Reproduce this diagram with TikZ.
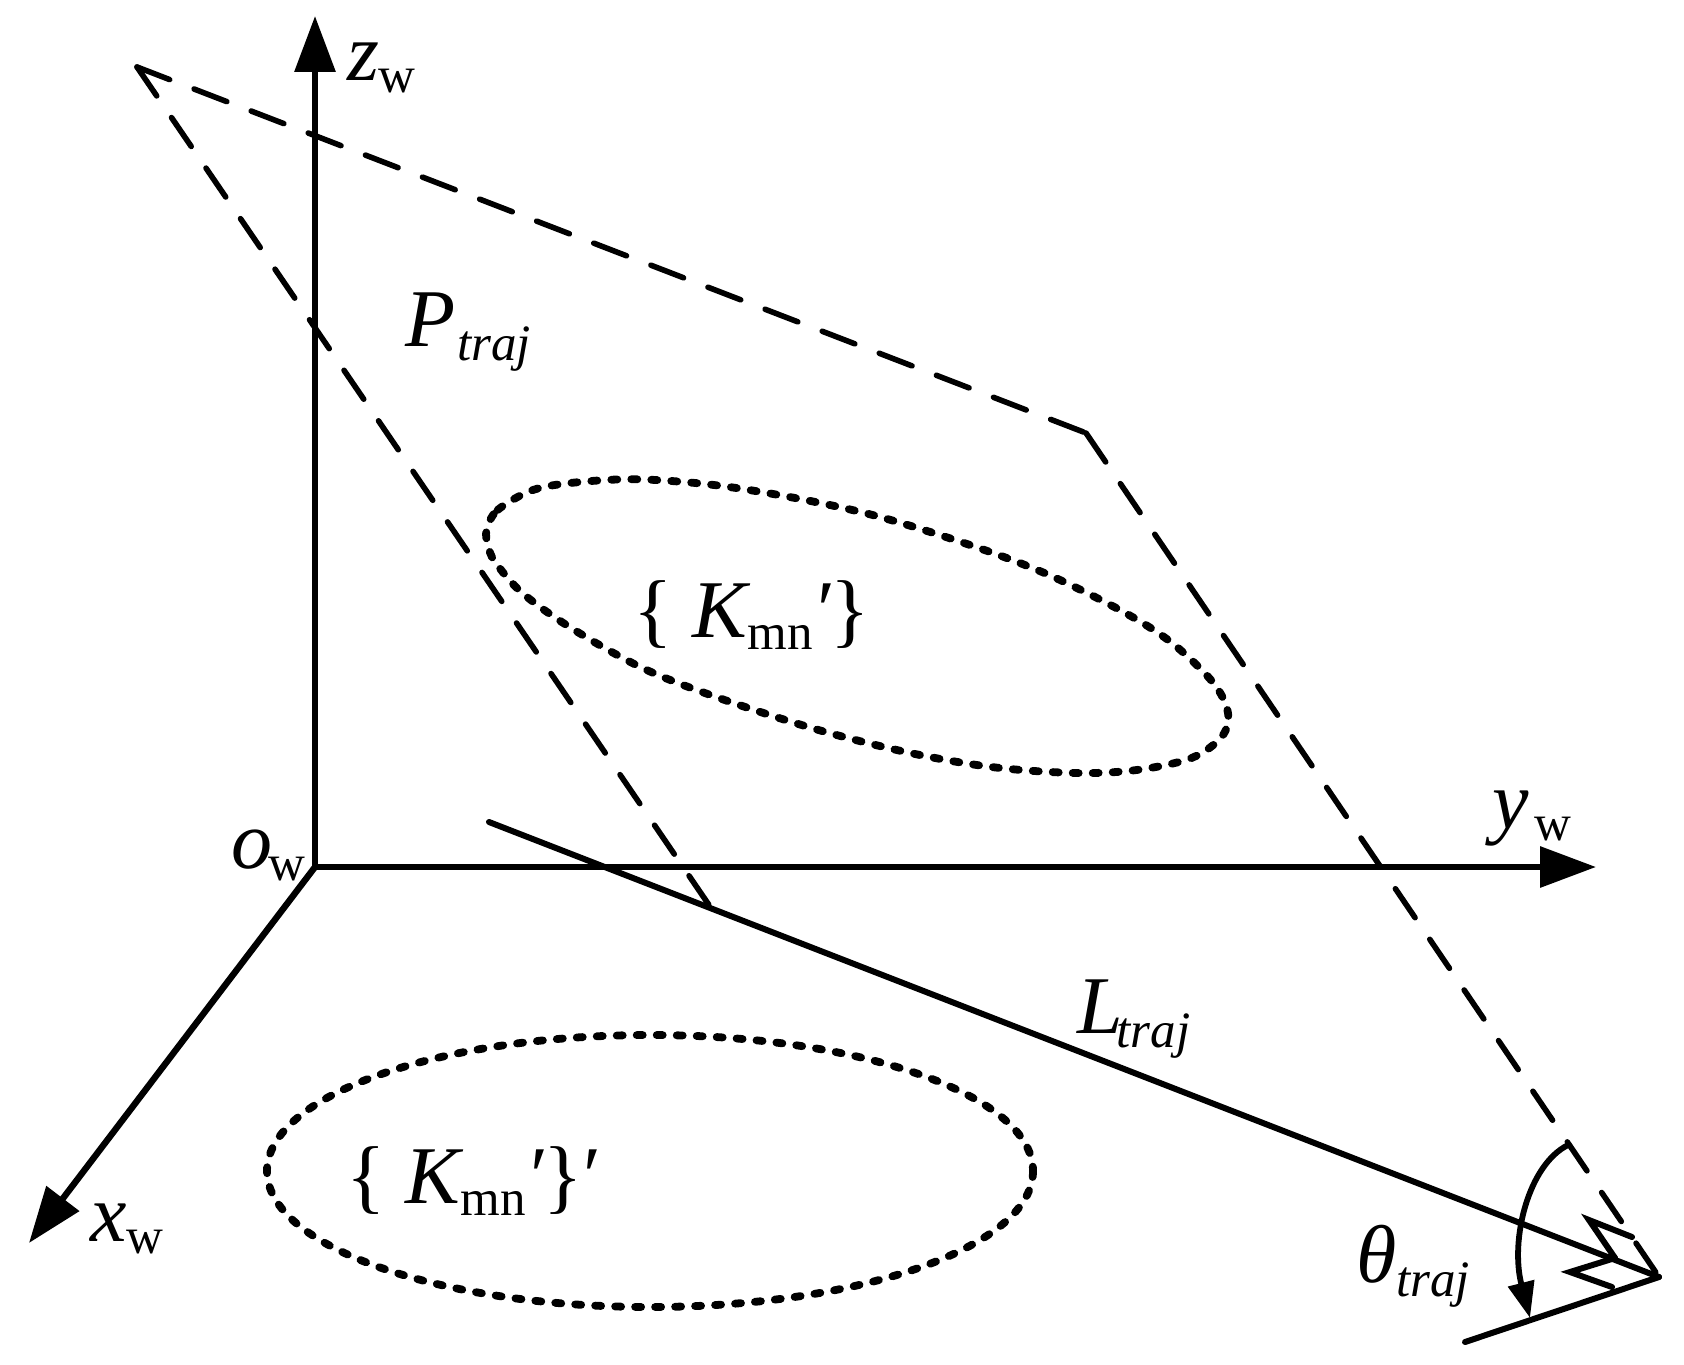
\documentclass[tikz,border=0pt]{standalone}
\usepackage{fontspec}
\setmainfont{Liberation Serif}
\usetikzlibrary{arrows.meta}
\newcommand\bigit[1]{{\fontsize{41pt}{41pt}\selectfont\itshape #1}}
\newcommand\bigup[1]{{\fontsize{41pt}{41pt}\selectfont #1}}
\newcommand\subit[1]{\raisebox{-7pt}{\fontsize{25.5pt}{25.5pt}\selectfont\itshape #1}}
\newcommand\subup[1]{\raisebox{-6pt}{\fontsize{25.5pt}{25.5pt}\selectfont #1}}
\tikzset{
  axisline/.style={line width=3.2pt,-{Triangle[length=28pt,width=20pt]}},
  dashline/.style={line width=2.8pt,line cap=round,dash pattern=on 17.5pt off 13.1pt},
  solidline/.style={line width=3pt,line cap=round,line join=miter},
  dotline/.style={line width=3.9pt,line cap=round,dash pattern=on 3pt off 7pt},
  lab/.style={anchor=base west,inner sep=0pt,outer sep=0pt},
}
\begin{document}
\begin{tikzpicture}[x=0.5pt,y=-0.5pt]
\useasboundingbox (0,0) rectangle (1684,1364);
\coordinate (o) at (315,867);
\coordinate (zt) at (315,16);
\coordinate (yt) at (1596,867);
\coordinate (xt) at (29,1243);
\coordinate (A) at (137,67);
\coordinate (B) at (1086,433);
\coordinate (C) at (1659,1277);
\coordinate (D) at (709,905);
\coordinate (L0) at (489,822);
\coordinate (G) at (1465,1342);
\coordinate (M1) at (1632,1237);
\coordinate (M2) at (1589,1220);
\coordinate (M3) at (1615,1258);
\coordinate (M4) at (1570,1272);
\coordinate (M5) at (1612,1287);
\coordinate (R0) at (1568,1145);
\coordinate (R1) at (1530,1318);
\coordinate (E) at (650,1171);
\draw[axisline] (o) -- (zt);
\draw[axisline] (o) -- (yt);
\draw[axisline] (o) -- (xt);
\draw[dashline] (A) -- (B);
\draw[dashline] (A) -- (D);
\draw[dashline] (B) -- (C);
\draw[solidline] (L0) -- (C);
\draw[solidline] (G) -- (C);
\draw[solidline] (M1) -- (M2) -- (M3);
\draw[solidline] (M3) -- (M4) -- (M5);
\draw[line width=2.9pt,-{Triangle[length=18pt,width=13pt]}] (R0) .. controls (1528,1165) and (1510,1240) .. (R1);
\draw[dotline] plot[smooth cycle,tension=0.55] coordinates {(486.6,530) (497.6,510) (533,490) (577,482.3) (637.5,479.3) (714,485) (796.6,498.3) (879,516.7) (975,546.7) (1049,575) (1123,611.7) (1172,643) (1213.4,683) (1228,713) (1221.7,736.7) (1191.5,758) (1136.7,770) (1076,773) (994,767.3) (911.7,753.3) (818.5,730) (719.8,698.3) (643,668.3) (571.6,628.3) (522.3,593) (494.9,561.7) (488,545)};
\draw[dotline] (E) ellipse [x radius=383,y radius=136];
\node[lab] (lz) at (347,81) {\bigit{z}\subup{w}};
\node[lab] (lp) at (405,346) {\bigit{P}\hspace{1pt}\subit{traj}};
\node[lab] (lk) at (633,637) {\bigup{\{ }\bigit{K}\subup{mn}\bigit{′}\bigup{\}}};
\node[lab] (ly) at (1492,828) {\bigit{y}\hspace{3pt}\subup{w}};
\node[lab] (lo) at (231,868) {\bigit{o}\hspace{-2pt}\subup{w}};
\node[lab] (lx) at (90,1241) {\bigit{x}\subup{w}};
\node[lab] (ll) at (1077,1033) {\bigit{L}\hspace{-3pt}\subit{traj}};
\node[lab] (lk2) at (346,1203) {\bigup{\{ }\bigit{K}\subup{mn}\bigit{′}\bigup{\}′}};
\node[lab] (lt) at (1356,1282) {\bigit{θ}\subit{traj}};
\end{tikzpicture}
\end{document}
